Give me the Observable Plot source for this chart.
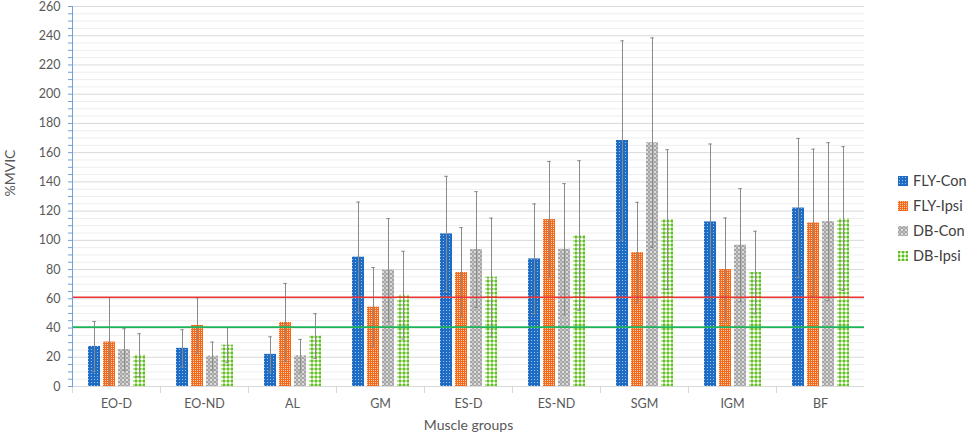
<!DOCTYPE html>
<html><head><meta charset="utf-8">
<script src="https://cdn.jsdelivr.net/npm/d3@7"></script>
<script src="https://cdn.jsdelivr.net/npm/@observablehq/plot@0.6"></script>
<style>
body{margin:0;background:#fff;font-family:Lato,"Open Sans",sans-serif;}
#wrap{position:relative;width:969px;height:433px;overflow:hidden;}
#legend{position:absolute;left:898px;top:168px;font-size:14.5px;color:#404040;}
.li{display:flex;align-items:center;height:25px;}
.li svg{margin-right:5px;}
</style></head><body>
<svg width="0" height="0" style="position:absolute">
<defs>
<pattern id="pBlue" width="3" height="3" patternUnits="userSpaceOnUse">
<rect width="3" height="3" fill="#1f6cc4"/><rect x="1" y="1" width="1" height="1" fill="#9cc1ec"/>
</pattern>
<pattern id="pOrange" width="2" height="2" patternUnits="userSpaceOnUse">
<rect width="2" height="2" fill="#f26a1b"/><rect x="0" y="0" width="1" height="1" fill="#ffc9a6"/>
</pattern>
<pattern id="pGrey" width="4" height="4" patternUnits="userSpaceOnUse">
<rect width="4" height="4" fill="#ededed"/><circle cx="2" cy="2" r="1.6" fill="#c4c4c4" stroke="#8a8a8a" stroke-width="0.7"/>
</pattern>
<pattern id="pGreen" width="4" height="4" patternUnits="userSpaceOnUse">
<rect width="4" height="4" fill="#b4e28d"/><rect x="0" y="0" width="2" height="2" fill="#5fbf2b"/><rect x="2" y="2" width="2" height="2" fill="#ffffff"/>
</pattern>
</defs></svg>
<div id="wrap"><div id="chart"></div><div id="legend"></div></div>
<script>
const muscles = ["EO-D","EO-ND","AL","GM","ES-D","ES-ND","SGM","IGM","BF"];
const series = ["FLY-Con","FLY-Ipsi","DB-Con","DB-Ipsi"];
const seriesPatterns = ["url(#pBlue)","url(#pOrange)","url(#pGrey)","url(#pGreen)"];

const flyConMean  = [27.4, 26.1, 22.0, 88.5, 104.4, 87.3, 168.3, 112.6, 122.1];
const flyConSD    = [17.1, 12.7, 12.0, 37.7, 39.4, 37.6, 68.2, 53.3, 47.6];
const flyIpsiMean = [30.4, 41.8, 43.8, 54.3, 78.0, 114.2, 91.6, 80.0, 111.9];
const flyIpsiSD   = [30.5, 18.9, 26.7, 27.1, 30.7, 39.8, 34.4, 35.3, 50.5];
const dbConMean   = [25.2, 20.8, 21.0, 79.6, 93.7, 93.9, 166.8, 96.7, 112.8];
const dbConSD     = [14.3, 9.6, 11.2, 35.3, 39.6, 44.9, 71.7, 38.7, 54.0];
const dbIpsiMean  = [21.5, 28.3, 34.5, 62.5, 74.8, 103.3, 114.2, 78.0, 114.9];
const dbIpsiSD    = [14.6, 12.0, 15.3, 30.0, 40.4, 51.2, 47.8, 28.2, 49.2];

const refLineValues = [61, 40.6];
const refLineColors = ["#ee3333", "#1db45a"];
const yMajorTicks = d3.range(0, 261, 20);
const yMinorTicks = d3.range(0, 261, 5);
const xTitle = "Muscle groups";
const yTitle = "%MVIC";

const means = [flyConMean, flyIpsiMean, dbConMean, dbIpsiMean];
const sds = [flyConSD, flyIpsiSD, dbConSD, dbIpsiSD];
const data = muscles.flatMap((m, i) => series.map((s, j) => ({muscle: m, series: s, mean: means[j][i], sd: sds[j][i]})));

const errStroke = "#8a8a8a";
const chart = Plot.plot({
  width: 969, height: 433,
  marginLeft: 69, marginRight: 103, marginTop: 6, marginBottom: 47,
  style: {fontFamily: "Lato, 'Open Sans', sans-serif", fontSize: "12.5px", color: "#595959", background: "#fff"},
  fx: {domain: muscles, padding: 0, axis: null},
  x: {domain: series, paddingInner: 0.22, paddingOuter: 0.88, axis: null},
  y: {domain: [0, 260], axis: null},
  color: {domain: series, range: seriesPatterns},
  marks: [
    Plot.ruleY(yMinorTicks.filter(v => v % 20 !== 0), {stroke: "#eeeeee"}),
    Plot.ruleY(yMajorTicks, {stroke: "#d9d9d9"}),
    Plot.barY(data, {fx: "muscle", x: "series", y: "mean", fill: "series"}),
    Plot.ruleX(data, {fx: "muscle", x: "series", y1: d => d.mean - d.sd, y2: d => d.mean + d.sd, stroke: errStroke}),
    Plot.tickY(data, {fx: "muscle", x: "series", y: d => d.mean + d.sd, stroke: errStroke, insetLeft: 4.2, insetRight: 4.2}),
    Plot.tickY(data, {fx: "muscle", x: "series", y: d => d.mean - d.sd, stroke: errStroke, insetLeft: 4.2, insetRight: 4.2}),
    Plot.ruleY([refLineValues[0]], {stroke: refLineColors[0], strokeWidth: 1.5}),
    Plot.ruleY([refLineValues[1]], {stroke: refLineColors[1], strokeWidth: 1.8}),
    Plot.ruleY([0], {stroke: "#d9d9d9"}),
    Plot.frame({anchor: "left", stroke: "#d9d9d9", insetTop: 380, insetBottom: -6}),
    Plot.frame({anchor: "left", facet: "super", stroke: "#6fa0d8"}),
    Plot.axisY({ticks: yMinorTicks, tickSize: 4, tickFormat: () => "", stroke: "#6fa0d8", label: null}),
    Plot.axisY({ticks: yMajorTicks, tickSize: 0, tickPadding: 12, fill: "#595959", fontSize: 12.5, label: null}),
    Plot.axisFx({anchor: "bottom", tickSize: 0, tickPadding: 13, fill: "#595959", fontSize: 12.5, label: null}),
    Plot.text([xTitle], {facet: "super", frameAnchor: "bottom", dy: 43, fill: "#595959", fontSize: 14}),
    Plot.text([yTitle], {facet: "super", frameAnchor: "left", rotate: -90, dx: -62, fill: "#595959", fontSize: 14})
  ]
});
document.getElementById("chart").appendChild(chart);

const legend = d3.select("#legend");
series.forEach((s, j) => {
  const item = legend.append("div").attr("class", "li");
  item.append("svg").attr("width", 10).attr("height", 10)
    .append("rect").attr("width", 10).attr("height", 10).attr("fill", seriesPatterns[j]);
  item.append("span").text(s);
});
</script>
</body></html>
